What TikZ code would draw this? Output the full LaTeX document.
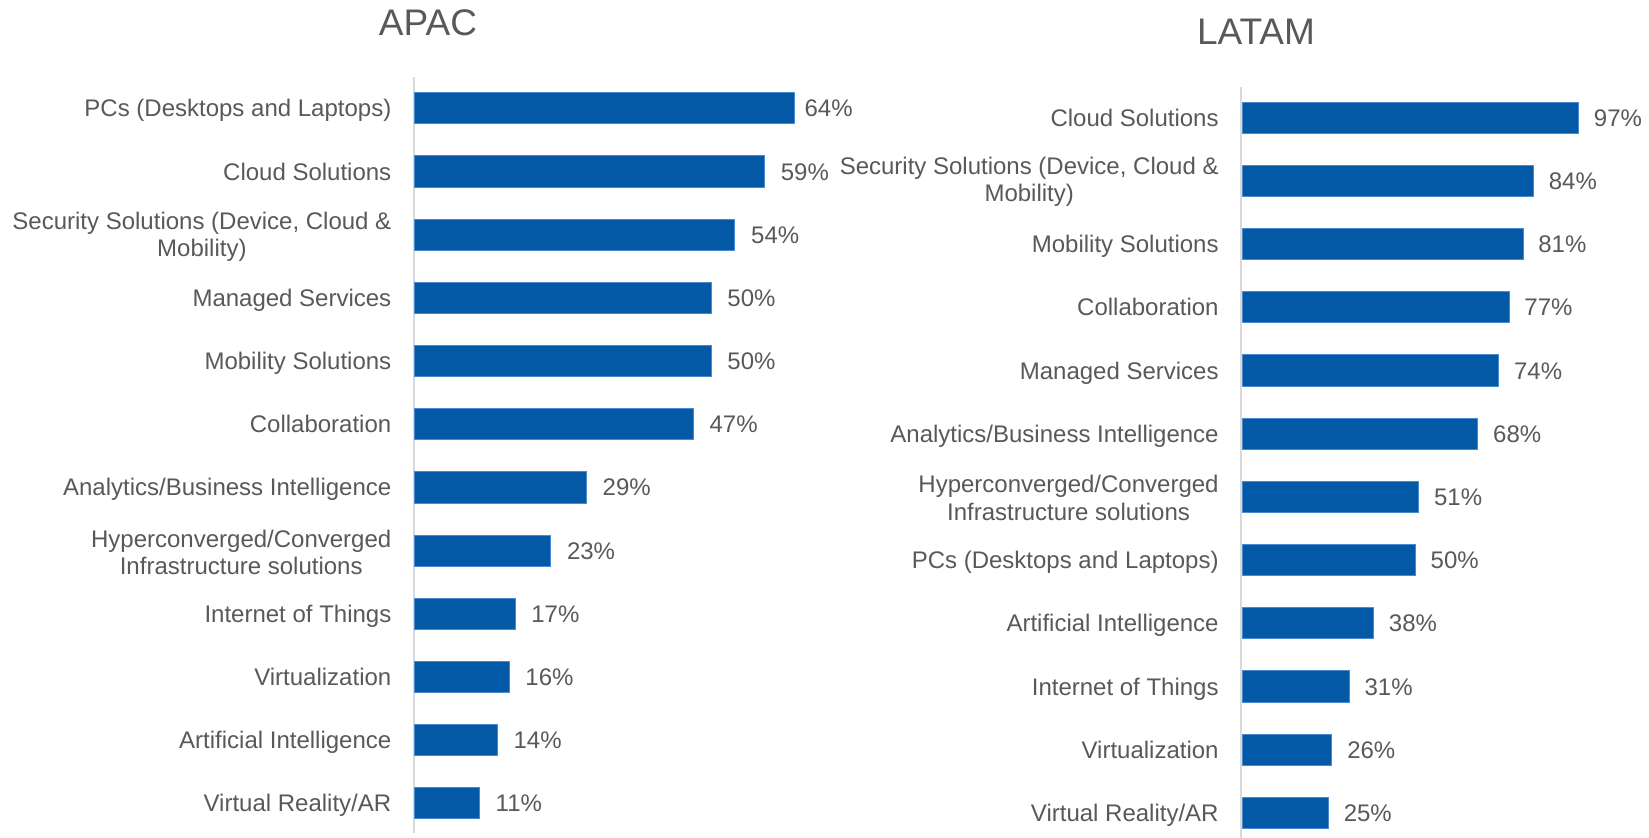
\documentclass[tikz,border=0pt]{standalone}
\usepackage{fontspec}
\setmainfont{Liberation Sans}
\definecolor{barblue}{HTML}{0459A7}
\definecolor{baredge}{HTML}{4A8AD0}
\definecolor{txtgrey}{HTML}{595959}
\definecolor{axisgrey}{HTML}{D9D9D9}
\begin{document}
\begin{tikzpicture}[x=0.5pt,y=-0.5pt,
  bar/.style={fill=barblue,draw=baredge,line width=0.4pt},
  axisline/.style={draw=axisgrey,line width=1pt},
  cat/.style={text=txtgrey,inner sep=0pt,anchor=base east,font=\fontsize{12}{13.6}\selectfont},
  cattwo/.style={text=txtgrey,inner sep=0pt,anchor=east,align=center,font=\fontsize{12}{13.6}\selectfont},
  val/.style={text=txtgrey,inner sep=0pt,anchor=base west,font=\fontsize{12}{13.6}\selectfont},
  ttl/.style={text=txtgrey,inner sep=0pt,anchor=base,font=\fontsize{18.5}{20}\selectfont}]
\useasboundingbox[fill=white] (0,0) rectangle (1649,838);
% ---------- APAC ----------
\node[ttl] (tA) at (428,36) {APAC};
\coordinate (aAtop) at (413.5,77);
\coordinate (aAbot) at (413.5,833);
\draw[axisline] (aAtop) -- (aAbot);
\foreach \i/\v/\lab/\two/\gap in {
  0/64/{PCs (Desktops and Laptops)}/0/10,
  1/59/{Cloud Solutions}/0/16,
  2/54/{Security Solutions (Device, Cloud \&\\Mobility)}/1/16,
  3/50/{Managed Services}/0/16,
  4/50/{Mobility Solutions}/0/16,
  5/47/{Collaboration}/0/16,
  6/29/{Analytics/Business Intelligence}/0/16,
  7/23/{Hyperconverged/Converged\\Infrastructure solutions}/1/16,
  8/17/{Internet of Things}/0/16,
  9/16/{Virtualization}/0/16,
  10/14/{Artificial Intelligence}/0/16,
  11/11/{Virtual Reality/AR}/0/16}{
  \pgfmathsetmacro{\yc}{108.3+63.18*\i}
  \pgfmathsetmacro{\xe}{414+5.94*\v}
  \draw[bar] (414.5,\yc-15.6) rectangle (\xe,\yc+15.6);
  \node[val] (vA\i) at (\xe+\gap,\yc+8.6) {\v\%};
  \ifnum\two=1
    \node[cattwo] (cA\i) at (391.7,\yc+2) {\lab};
  \else
    \node[cat] (cA\i) at (391.7,\yc+8.6) {\lab};
  \fi
}
% ---------- LATAM ----------
\node[ttl] (tL) at (1256,45) {LATAM};
\coordinate (aLtop) at (1241,87);
\coordinate (aLbot) at (1241,838);
\draw[axisline] (aLtop) -- (aLbot);
\foreach \i/\v/\lab/\two in {
  0/97/{Cloud Solutions}/0,
  1/84/{Security Solutions (Device, Cloud \&\\Mobility)}/1,
  2/81/{Mobility Solutions}/0,
  3/77/{Collaboration}/0,
  4/74/{Managed Services}/0,
  5/68/{Analytics/Business Intelligence}/0,
  6/51/{Hyperconverged/Converged\\Infrastructure solutions}/1,
  7/50/{PCs (Desktops and Laptops)}/0,
  8/38/{Artificial Intelligence}/0,
  9/31/{Internet of Things}/0,
  10/26/{Virtualization}/0,
  11/25/{Virtual Reality/AR}/0}{
  \pgfmathsetmacro{\yc}{117.7+63.2*\i}
  \pgfmathsetmacro{\xe}{1241.5+3.475*\v}
  \draw[bar] (1242,\yc-15.6) rectangle (\xe,\yc+15.6);
  \node[val] (vL\i) at (\xe+15,\yc+8.6) {\v\%};
  \ifnum\two=1
    \node[cattwo] (cL\i) at (1219,\yc+1) {\lab};
  \else
    \node[cat] (cL\i) at (1219,\yc+8.6) {\lab};
  \fi
}
\end{tikzpicture}
\end{document}
